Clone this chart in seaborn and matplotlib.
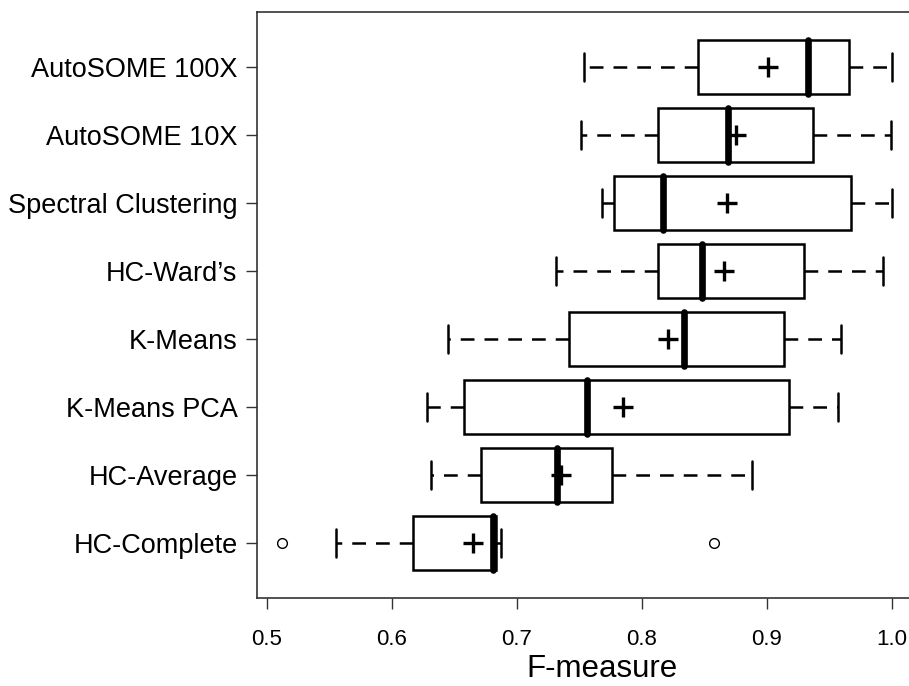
import numpy as np
import pandas as pd
import seaborn as sns
import matplotlib
matplotlib.use('Agg')
import matplotlib.pyplot as plt

sns.set_style('ticks')
plt.rcParams['font.family'] = ['Liberation Sans', 'DejaVu Sans']
plt.rcParams['text.color'] = 'black'
plt.rcParams['xtick.labelcolor'] = 'black'
plt.rcParams['ytick.labelcolor'] = 'black'

# box summaries (top to bottom)
methods = ['AutoSOME 100X', 'AutoSOME 10X', 'Spectral Clustering', 'HC-Ward\u2019s',
           'K-Means', 'K-Means PCA', 'HC-Average', 'HC-Complete']
whisk_lo = [0.754, 0.751, 0.768, 0.731, 0.645, 0.628, 0.631, 0.555]
q1 = [0.845, 0.813, 0.778, 0.813, 0.742, 0.658, 0.671, 0.617]
median = [0.933, 0.869, 0.817, 0.848, 0.834, 0.756, 0.732, 0.681]
q3 = [0.966, 0.937, 0.967, 0.930, 0.914, 0.918, 0.776, 0.683]
whisk_hi = [1.000, 0.999, 1.000, 0.993, 0.959, 0.957, 0.888, 0.687]
means = [0.901, 0.875, 0.868, 0.866, 0.821, 0.785, 0.735, 0.665]
outlier_lo = [None, None, None, None, None, None, None, 0.512]
outlier_hi = [None, None, None, None, None, None, None, 0.858]

# 9 points per method -> quartiles land exactly on q1 / median / q3
rows = []
for i, m in enumerate(methods):
    a = outlier_lo[i] if outlier_lo[i] is not None else whisk_lo[i]
    b = outlier_hi[i] if outlier_hi[i] is not None else whisk_hi[i]
    pts = [a, whisk_lo[i], q1[i], q1[i], median[i], q3[i], q3[i], whisk_hi[i], b]
    for p in pts:
        rows.append((m, p))
df = pd.DataFrame(rows, columns=['method', 'F'])

fig = plt.figure(figsize=(9.09, 6.86), dpi=100)
ax = fig.add_axes([0.2827, 0.1283, 0.7261, 0.8542])

sns.boxplot(data=df, x='F', y='method', order=methods, orient='h', ax=ax,
            color='white', linecolor='black', saturation=1, width=0.8,
            linewidth=1.8, whis=1.5,
            whiskerprops=dict(linestyle=(0, (5.5, 4))),
            medianprops=dict(color='black', linewidth=4.8, solid_capstyle='round'),
            flierprops=dict(marker='o', markerfacecolor='none', markeredgecolor='black',
                            markersize=7, markeredgewidth=1))

sns.scatterplot(x=means, y=np.arange(len(methods)), marker='+', s=190, color='black',
                linewidth=2.4, ax=ax, zorder=5, legend=False)

ax.set_xlim(0.492, 1.020)
ax.set_ylim(7.81, -0.81)
ax.set_xticks([0.5, 0.6, 0.7, 0.8, 0.9, 1.0])
ax.set_xticklabels(['0.5', '0.6', '0.7', '0.8', '0.9', '1.0'])
ax.set_yticks(np.arange(len(methods)))
ax.set_yticklabels(methods)
ax.set_ylabel('')
ax.set_xlabel('F-measure', fontsize=22.5, color='black')
ax.xaxis.set_label_coords(0.523, -0.096)

for s in ax.spines.values():
    s.set_visible(True)
    s.set_color('#333333')
    s.set_linewidth(1.2)
ax.tick_params(axis='both', direction='out', length=8, width=1, color='#333333')
ax.tick_params(axis='x', labelsize=16, pad=14)
ax.tick_params(axis='y', labelsize=19.5, pad=6)

fig.savefig('out.png', dpi=100)
